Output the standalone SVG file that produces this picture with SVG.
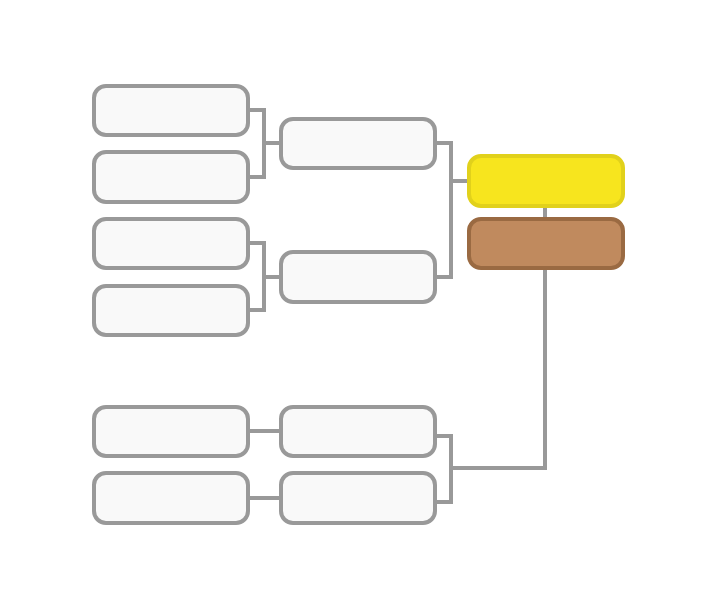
<svg xmlns="http://www.w3.org/2000/svg" width="717" height="605" viewBox="0 0 717 605">
<style>
.box{fill:#f9f9f9;stroke:#999999;stroke-width:4}
.yel{fill:#f7e51e;stroke:#e1d11b;stroke-width:4}
.brn{fill:#c08a5e;stroke:#9a6a42;stroke-width:4}
.c{fill:none;stroke:#999999;stroke-width:4}
</style>
<rect width="717" height="605" fill="#ffffff"/>
<g id="connectors">
<path class="c" d="M248 110 H264 V177 H248 M264 143 H281"/>
<path class="c" d="M248 243 H264 V310 H248 M264 277 H281"/>
<path class="c" d="M435 143 H451 V277 H435 M451 181 H469"/>
<path class="c" d="M248 431 H281 M248 498 H281"/>
<path class="c" d="M435 436 H451 V502 H435 M451 468 H545 V268"/>
<path class="c" d="M545 206 V219"/>
</g>
<g id="n1"><rect class="box" x="94" y="86" width="154" height="49" rx="12"/></g>
<g id="n2"><rect class="box" x="94" y="152" width="154" height="50" rx="12"/></g>
<g id="n3"><rect class="box" x="94" y="219" width="154" height="49" rx="12"/></g>
<g id="n4"><rect class="box" x="94" y="286" width="154" height="49" rx="12"/></g>
<g id="n5"><rect class="box" x="94" y="407" width="154" height="49" rx="12"/></g>
<g id="n6"><rect class="box" x="94" y="473" width="154" height="50" rx="12"/></g>
<g id="m1"><rect class="box" x="281" y="119" width="154" height="49" rx="12"/></g>
<g id="m2"><rect class="box" x="281" y="252" width="154" height="50" rx="12"/></g>
<g id="m3"><rect class="box" x="281" y="407" width="154" height="49" rx="12"/></g>
<g id="m4"><rect class="box" x="281" y="473" width="154" height="50" rx="12"/></g>
<g id="winner"><rect class="yel" x="469" y="156" width="154" height="50" rx="12"/></g>
<g id="third"><rect class="brn" x="469" y="219" width="154" height="49" rx="12"/></g>
</svg>
